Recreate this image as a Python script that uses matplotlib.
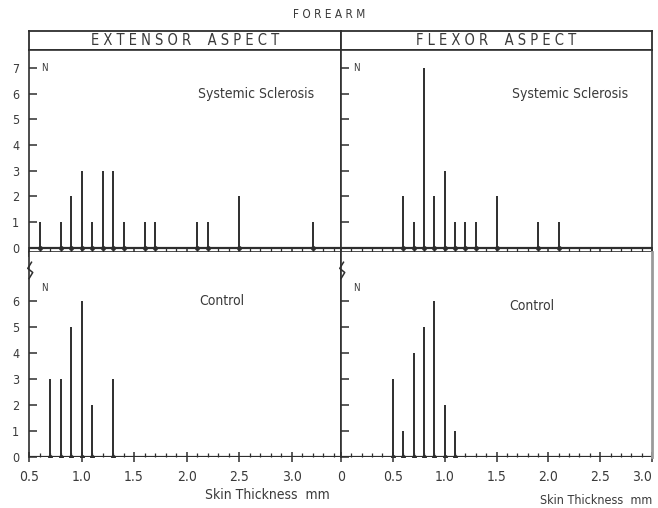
import numpy as np
import matplotlib
matplotlib.use("Agg")
import matplotlib.pyplot as plt
from matplotlib.ticker import MultipleLocator

plt.rcParams['font.family'] = ['DejaVu Sans']
plt.rcParams['font.stretch'] = 'condensed'

# data
ext_ssc_x = [0.6, 0.8, 0.9, 1.0, 1.1, 1.2, 1.3, 1.4, 1.6, 1.7, 2.1, 2.2, 2.5, 3.2]
ext_ssc_n = [1, 1, 2, 3, 1, 3, 3, 1, 1, 1, 1, 1, 2, 1]
flx_ssc_x = [0.6, 0.7, 0.8, 0.9, 1.0, 1.1, 1.2, 1.3, 1.5, 1.9, 2.1]
flx_ssc_n = [2, 1, 7, 2, 3, 1, 1, 1, 2, 1, 1]
ext_ctl_x = [0.7, 0.8, 0.9, 1.0, 1.1, 1.3]
ext_ctl_n = [3, 3, 5, 6, 2, 3]
flx_ctl_x = [0.5, 0.6, 0.7, 0.8, 0.9, 1.0, 1.1]
flx_ctl_n = [3, 1, 4, 5, 6, 2, 1]

left_ticks = [0.5, 1.0, 1.5, 2.0, 2.5, 3.0]
right_ticks = [0, 0.5, 1.0, 1.5, 2.0, 2.5, 3.0]
left_lbls = ['0.5', '1.0', '1.5', '2.0', '2.5', '3.0']
right_lbls = ['0', '0.5', '1.0', '1.5', '2.0', '2.5', '3.0']

ink = '#2e2e2e'
txt = '#3a3a3a'

fig = plt.figure(figsize=(6.58, 5.08), dpi=100)

xl, xm, xr = 29 / 658, 341 / 658, 652 / 658
h_top, h_bot = 1 - 31 / 508, 1 - 50 / 508
mid = 1 - 252 / 508
bot = 1 - 457 / 508

# header boxes
for x0, x1, name in [(xl, xm, 'E X T E N S O R    A S P E C T'),
                     (xm, xr, 'F L E X O R    A S P E C T')]:
    hax = fig.add_axes([x0, h_bot, x1 - x0, h_top - h_bot])
    hax.set_xticks([])
    hax.set_yticks([])
    for s in hax.spines.values():
        s.set_color(ink)
        s.set_linewidth(1.3)
    hax.text(0.5, 0.5, name, ha='center', va='center', fontsize=10.5, color=txt,
             transform=hax.transAxes)

fig.text(0.5, 1 - 15 / 508, 'F O R E A R M', ha='center', va='center', fontsize=8.5, color=txt)

panels = [
    ([xl, mid, xm - xl, h_bot - mid], ext_ssc_x, ext_ssc_n, (0.5, 3.47), (-0.16, 7.7),
     'Systemic Sclerosis', (2.66, 6.0), True, False),
    ([xm, mid, xr - xm, h_bot - mid], flx_ssc_x, flx_ssc_n, (0.0, 3.0), (-0.16, 7.7),
     'Systemic Sclerosis', (2.21, 6.0), False, False),
    ([xl, bot, xm - xl, mid - bot], ext_ctl_x, ext_ctl_n, (0.5, 3.47), (0, 7.88),
     'Control', (2.34, 6.0), True, True),
    ([xm, bot, xr - xm, mid - bot], flx_ctl_x, flx_ctl_n, (0.0, 3.0), (0, 7.88),
     'Control', (1.84, 5.8), False, True),
]

for rect, xs, ns, xlim, ylim, label, lpos, is_left, is_bottom in panels:
    ax = fig.add_axes(rect)
    ax.vlines(xs, 0, ns, color=ink, lw=1.4)
    ax.plot(xs, np.zeros(len(xs)), 'o', color=ink, ms=2.5)
    ax.axhline(0, color=ink, lw=1.6)
    ax.set_xlim(*xlim)
    ax.set_ylim(*ylim)
    for s in ax.spines.values():
        s.set_color(ink)
        s.set_linewidth(1.2)
    if is_bottom:
        ax.spines['top'].set_visible(False)
        ax.spines['bottom'].set_visible(False)
        ax.spines['right'].set_color('#9a9a9a' if not is_left else ink)
        ax.spines['right'].set_linewidth(2 if not is_left else 1.2)
    ax.xaxis.set_minor_locator(MultipleLocator(0.1))
    ax.tick_params(axis='x', which='major', direction='inout', length=7, color=ink, width=1.1,
                   labelsize=10, labelcolor=txt, pad=6)
    ax.tick_params(axis='x', which='minor', direction='in', length=3, color=ink, width=0.9)
    if is_bottom:
        if is_left:
            ax.set_xticks(left_ticks, left_lbls)
        else:
            ax.set_xticks(right_ticks, right_lbls)
            ax.get_xticklabels()[-1].set_horizontalalignment('right')
    else:
        ax.set_xticks(left_ticks if is_left else right_ticks)
        ax.tick_params(axis='x', labelbottom=False)
    ymax = 7 if not is_bottom else 6
    ax.set_yticks(range(0, ymax + 1))
    ax.tick_params(axis='y', direction='in', length=6, width=1.1, color=ink,
                   labelsize=9, labelcolor=txt, pad=7)
    if not is_left:
        ax.tick_params(axis='y', labelleft=False)
    ax.text(lpos[0], lpos[1], label, ha='center', va='center', fontsize=10, color=txt)
    n_y = 7 if not is_bottom else 6.5
    ax.text(xlim[0] + 0.12, n_y, 'N', ha='left', va='center', fontsize=7, color=txt)
    if is_bottom:
        # axis break mark near the top of the y axis
        ax.plot([0.0, 0.012, -0.004, 0.008], [0.87, 0.90, 0.92, 0.95],
                transform=ax.transAxes, color=ink, lw=1.1, clip_on=False)
        if is_left:
            ax.text(0.965, -0.185, 'Skin Thickness  mm', transform=ax.transAxes,
                    ha='right', va='center', fontsize=10, color=txt)
        else:
            ax.text(1.0, -0.21, 'Skin Thickness  mm', transform=ax.transAxes,
                    ha='right', va='center', fontsize=9, color=txt)

fig.savefig('out.png', dpi=100)
